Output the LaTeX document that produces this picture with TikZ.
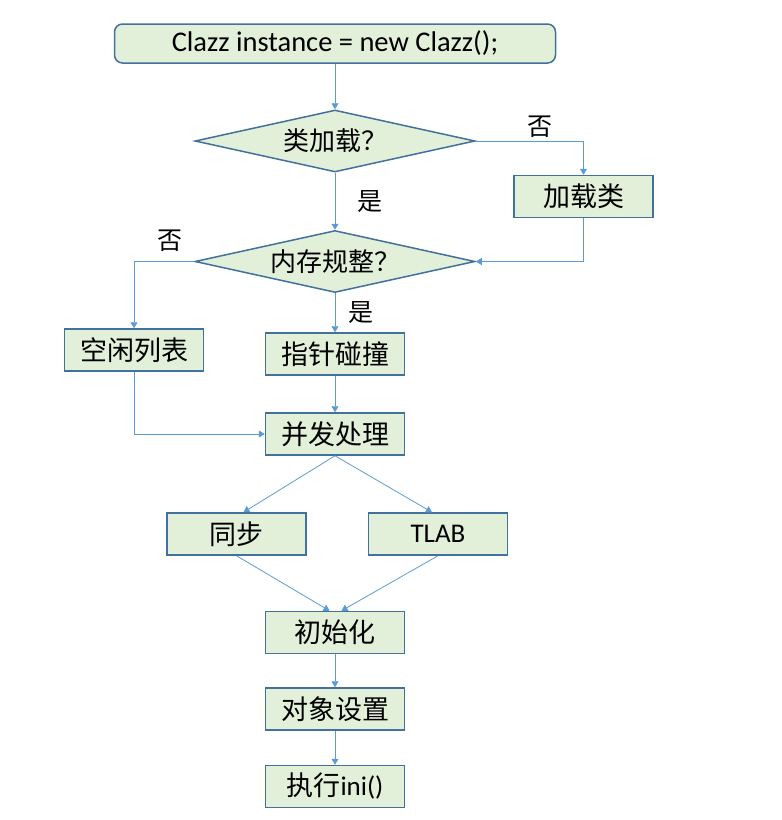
\documentclass[tikz,border=0pt]{standalone}
\usepackage{fontspec}
\setmainfont{Carlito}
\newfontfamily\cjk{Noto Sans CJK SC}
\usetikzlibrary{positioning,arrows.meta,shapes.geometric}

\definecolor{boxfill}{HTML}{E2EFD9}
\definecolor{boxline}{HTML}{41719C}
\definecolor{flowline}{HTML}{5B9BD5}

\tikzset{
  process/.style={draw=boxline, fill=boxfill, line width=1.5pt, minimum width=139pt,
    minimum height=42pt, inner sep=0pt, font=\fontsize{27}{30}\selectfont\cjk},
  decision/.style={diamond, draw=boxline, fill=boxfill, line width=1.5pt, aspect=4.5,
    minimum width=280pt, minimum height=62pt, inner sep=0pt, font=\fontsize{26}{30}\selectfont\cjk},
  flow/.style={draw=flowline, line width=0.8pt, -{Triangle[width=7pt,length=6pt]}},
  branch/.style={font=\fontsize{25}{28}\selectfont\cjk, inner sep=0pt}
}

\begin{document}
\begin{tikzpicture}[node distance=80pt,on grid]
  \useasboundingbox (0,0) rectangle (782pt,-820pt);
  \node[process,rounded corners=8pt,minimum width=441pt,minimum height=39pt,
        font=\fontsize{28.5}{32}\selectfont] (start) at (335pt,-43.5pt) {Clazz instance = new Clazz();};
  \node[decision] (loaded) [below=97.5pt of start]              {类加载？};
  \node[process]  (load)   [below right=55.5pt and 248.5pt of loaded] {加载类};
  \node[decision] (tidy)   [below=120.5pt of loaded]            {内存规整？};
  \node[process]  (free)   [below left=88.5pt and 201pt of tidy]  {空闲列表};
  \node[process]  (bump)   [below=92.5pt of tidy]               {指针碰撞};
  \node[process]  (conc)   [below=80pt of bump]                 {并发处理};
  \node[process]  (sync)   [below left=100pt and 98.5pt of conc]  {同步};
  \node[process]  (tlab)   [below right=100pt and 103pt of conc]  {\rmfamily TLAB};
  \node[process]  (init)   [below=198.5pt of conc]              {初始化};
  \node[process]  (setup)  [below=76.5pt of init]               {对象设置};
  \node[process]  (exec)   [below=77.5pt of setup]              {执行{\rmfamily ini()}};

  \path[flow] (start) -- (loaded);
  \path[flow] (loaded.east) -| node[branch,pos=0.3,yshift=14pt] {否} (load.north);
  \path[flow] (loaded) -- node[branch,xshift=35pt] {是} (tidy);
  \path[flow] (load.south) |- (tidy.east);
  \path[flow] (tidy.west) -| node[branch,pos=0.2,yshift=21pt] {否} (free.north);
  \path[flow] (tidy) -- node[branch,xshift=26pt] {是} (bump);
  \path[flow] (bump) -- (conc);
  \path[flow] (free.south) |- (conc.west);
  % 并发处理的两种方式
  \path[flow] (conc.south) -- ([xshift=7pt]sync.north);
  \path[flow] (conc.south) -- ([xshift=-6pt]tlab.north);
  \path[flow] (sync.south) -- ([xshift=-5.5pt]init.north);
  \path[flow] (tlab.south) -- ([xshift=6.5pt]init.north);
  \path[flow] (init) -- (setup);
  \path[flow] (setup) -- (exec);
\end{tikzpicture}
\end{document}
